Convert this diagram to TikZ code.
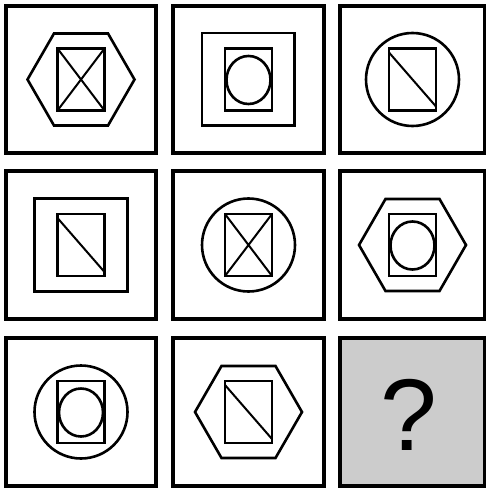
\documentclass[tikz,border=0pt]{standalone}
\usepackage{fontspec}
\setsansfont{Liberation Sans}
\begin{document}
\begin{tikzpicture}[x=1pt,y=-1pt,
  frame/.style={line width=3.4pt},
  fig/.style={line width=2.6pt},
  diag/.style={line width=2.0pt},
  hexa/.pic={\draw[fig,line join=miter] (-53.5,0)--(-27,-46)--(27,-46)--(53.5,0)--(27,46)--(-27,46)--cycle;},
  bigcirc/.pic={\draw[fig] (0,0) circle[radius=46.5];},
  midsq/.pic={\draw[fig] (-46.3,-46.3) rectangle (46.3,46.3);},
  rectx/.pic={\draw[fig] (-23.5,-31) rectangle (23.5,31);
              \draw[diag] (-23.5,-31)--(23.5,31) (-23.5,31)--(23.5,-31);},
  rectd/.pic={\draw[fig] (-23.5,-31) rectangle (23.5,31);
              \draw[diag] (-23.5,-27)--(23.5,27);},
  recto/.pic={\draw[fig] (-23.5,-31) rectangle (23.5,31);
              \draw[fig] (0,0.5) ellipse[x radius=22,y radius=24];}
]
\useasboundingbox (0,0) rectangle (486,489);
% outer frames
\draw[frame] (6,6) rectangle (156,153);
\draw[frame] (173,6) rectangle (324,153);
\draw[frame] (340,6) rectangle (484.5,153);
\draw[frame] (6,171) rectangle (156,319);
\draw[frame] (173,171) rectangle (324,319);
\draw[frame] (340,171) rectangle (484.5,319);
\draw[frame] (6,338) rectangle (156,486);
\draw[frame] (173,338) rectangle (324,486);
\draw[frame,fill=black!20] (340,338) rectangle (484.5,486);
% row 1
\pic at (81,79.5) {hexa};
\pic at (81,79.5) {rectx};
\pic at (248.3,79.5) {midsq};
\pic at (248.5,79.5) {recto};
\pic at (412.5,79.5) {bigcirc};
\pic at (412.5,79.5) {rectd};
% row 2
\pic at (81,245) {midsq};
\pic at (81,245) {rectd};
\pic at (248.5,245) {bigcirc};
\pic at (248.5,245) {rectx};
\pic at (412.5,245) {hexa};
\pic at (412.5,245) {recto};
% row 3
\pic at (81,412) {bigcirc};
\pic at (81,412) {recto};
\pic at (248.5,412) {hexa};
\pic at (248.5,412) {rectd};
\node[font=\sffamily\fontsize{102}{102}\selectfont, inner sep=0pt] (q) at (409,415) {?};
\end{tikzpicture}
\end{document}
